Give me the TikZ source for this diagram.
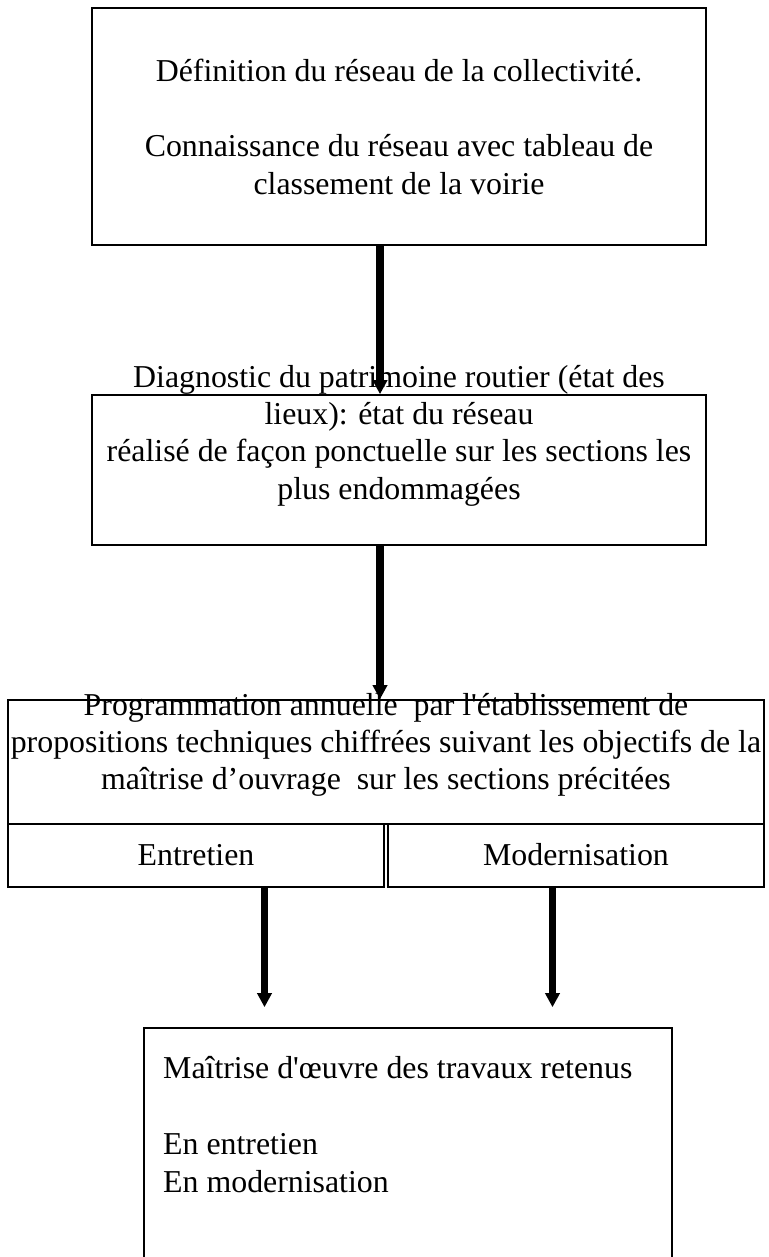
\documentclass[tikz,border=0pt]{standalone}
\usepackage{fontspec}
\setmainfont{Liberation Serif}[Ligatures=TeXOff]
\usetikzlibrary{arrows.meta}
\begin{document}
\begin{tikzpicture}[x=1pt,y=-1pt,
  box/.style={draw=black,line width=1.6pt,inner sep=0pt,anchor=center},
  txt/.style={inner sep=0pt,font=\fontsize{31.85pt}{37.4pt}\selectfont},
  arr/.style={line width=7.5pt,-{Triangle[width=14pt,length=14pt]}}]
\useasboundingbox[fill=white] (0,0) rectangle (768,1257);
\clip (0,0) rectangle (768,1257);
% boxes
\node[box,minimum width=614pt,minimum height=237pt] (b1) at (399,126.5) {};
\node[box,minimum width=614pt,minimum height=150pt] (b2) at (399,470) {};
\node[box,minimum width=756pt,minimum height=124pt] (b3) at (386,762) {};
\node[box,minimum width=376pt,minimum height=63pt] (e) at (196,855.5) {};
\node[box,minimum width=376pt,minimum height=63pt] (m) at (576,855.5) {};
\node[box,minimum width=528pt,minimum height=250pt] (b4) at (408,1153) {};
% texts (base anchor = baseline of the last line)
\node[txt,align=center,anchor=base] (t1) at (399,194.2)
  {Définition du réseau de la collectivité.\\[37.4pt]Connaissance du réseau avec tableau de\\classement de la voirie};
\node[txt,align=center,anchor=base] (t2) at (399,499.2)
  {Diagnostic du patrimoine routier (état des\\lieux): état du réseau\\réalisé de façon ponctuelle sur les sections les\\plus endommagées};
\node[txt,align=center,anchor=base] (t3) at (386,789.8)
  {Programmation annuelle\ \ par l'établissement de\\propositions techniques chiffrées suivant les objectifs de la\\maîtrise d’ouvrage\ \ sur les sections précitées};
\node[txt,anchor=base] (te) at (196,865) {Entretien};
\node[txt,anchor=base] (tm) at (576,865) {Modernisation};
\node[txt,align=left,anchor=base west] (t4) at (163,1192)
  {Maîtrise d'œuvre des travaux retenus\\[39pt]En entretien\\En modernisation};
% arrows
\draw[arr] ([xshift=-19pt]b1.south) -- ([xshift=-19pt]b2.north);
\draw[arr] ([xshift=-19pt]b2.south) -- ([xshift=-6pt]b3.north);
\draw[arr] ([xshift=68.5pt]e.south) -- ([xshift=-143.5pt,yshift=20pt]b4.north);
\draw[arr] ([xshift=-23.5pt]m.south) -- ([xshift=144.5pt,yshift=20pt]b4.north);
\end{tikzpicture}
\end{document}
